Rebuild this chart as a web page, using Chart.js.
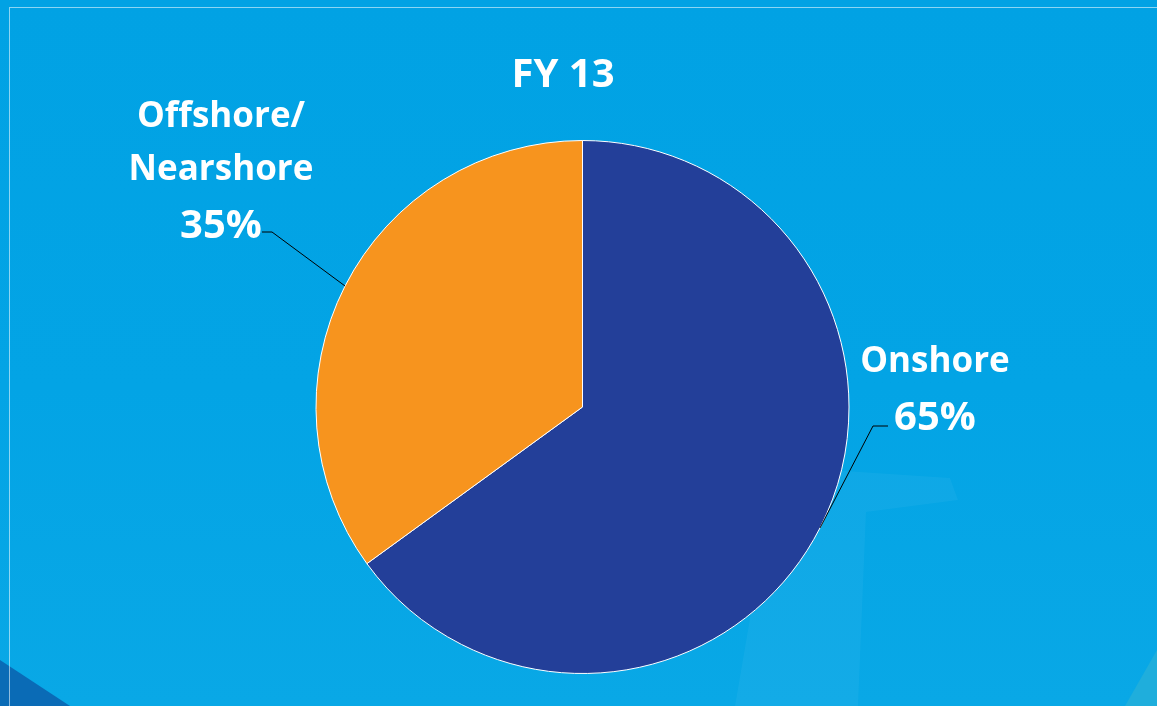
<!DOCTYPE html>
<html>
<head>
<meta charset="utf-8">
<script src="https://cdn.jsdelivr.net/npm/chart.js@4"></script>
<style>
  html, body { margin: 0; padding: 0; }
  body {
    width: 1157px; height: 706px; overflow: hidden; position: relative;
    background: linear-gradient(180deg, #01A2E4 0%, #03A4E5 55%, #09A8E6 100%);
  }
  .shape { position: absolute; left: 0; top: 0; width: 1157px; height: 706px; }
  .dark  { background: #0A6BB6; clip-path: polygon(0 660px, 70px 706px, 0 706px); }
  .light { background: rgba(255,255,255,0.045);
           clip-path: polygon(735px 706px, 760px 560px, 830px 470px, 950px 478px, 958px 500px, 866px 512px, 858px 706px); }
  .corner { background: #1FAEDC; clip-path: polygon(1157px 650px, 1157px 706px, 1125px 706px); }
  .frame {
    position: absolute; left: 9px; top: 7px; width: 1200px; height: 760px;
    border-top: 1px solid rgba(255,255,255,0.55); border-left: 1px solid rgba(255,255,255,0.55);
  }
  canvas { position: absolute; left: 0; top: 0; }
</style>
</head>
<body>
<div class="shape dark"></div>
<div class="shape light"></div>
<div class="shape corner"></div>
<div class="frame"></div>
<canvas id="chart" width="1157" height="706"></canvas>
<script>
const chartTitle = 'FY 13';
const regions = ['Onshore', 'Offshore/\nNearshore'];
const shares  = [65, 35];
const colors  = ['#233F99', '#F7941E'];

const FONT = '"Open Sans", "Liberation Sans", sans-serif';

// leader lines + labels, positions are layout only
const callouts = {
  id: 'callouts',
  afterDraw(chart, args, opts) {
    const ctx = chart.ctx;
    const arcs = chart.getDatasetMeta(0).data;
    ctx.save();

    // title
    ctx.fillStyle = '#fff';
    ctx.textAlign = 'center';
    ctx.textBaseline = 'alphabetic';
    ctx.font = 'bold 40px ' + FONT;
    ctx.fillText(chartTitle, opts.title.x, opts.title.y);

    arcs.forEach((arc, i) => {
      const p = arc.getProps(['x', 'y', 'startAngle', 'endAngle', 'outerRadius'], true);
      const mid = (p.startAngle + p.endAngle) / 2;
      const ex = p.x + Math.cos(mid) * p.outerRadius;
      const ey = p.y + Math.sin(mid) * p.outerRadius;
      const c = opts.items[i];

      ctx.strokeStyle = '#000';
      ctx.lineWidth = 1;
      ctx.beginPath();
      ctx.moveTo(ex, ey);
      ctx.lineTo(c.elbow[0], c.elbow[1]);
      ctx.lineTo(c.end[0], c.end[1]);
      ctx.stroke();

      ctx.fillStyle = '#fff';
      ctx.textAlign = 'center';
      ctx.font = 'bold 40px ' + FONT;
      ctx.fillText(shares[i] + '%', c.textX, c.pctY);

      ctx.font = 'bold 35px ' + FONT;
      const lines = regions[i].split('\n');
      let y = c.pctY - 58;
      for (let k = lines.length - 1; k >= 0; k--) {
        ctx.fillText(lines[k], c.textX, y);
        y -= 53;
      }
    });
    ctx.restore();
  }
};

new Chart(document.getElementById('chart'), {
  type: 'pie',
  data: {
    labels: regions,
    datasets: [{
      data: shares,
      backgroundColor: colors,
      borderColor: '#ffffff',
      borderWidth: 1,
    }],
  },
  options: {
    responsive: false,
    animation: false,
    layout: { padding: { top: 140, bottom: 32, left: 315, right: 307 } },
    plugins: {
      legend: { display: false },
      tooltip: { enabled: false },
      title: { display: false },
      callouts: {
        title: { x: 563, y: 87 },
        items: [
          { elbow: [873, 426], end: [888, 426], textX: 935, pctY: 430 },
          { elbow: [272, 232], end: [262, 232], textX: 221, pctY: 238 },
        ],
      },
    },
  },
  plugins: [callouts],
});
</script>
</body>
</html>
